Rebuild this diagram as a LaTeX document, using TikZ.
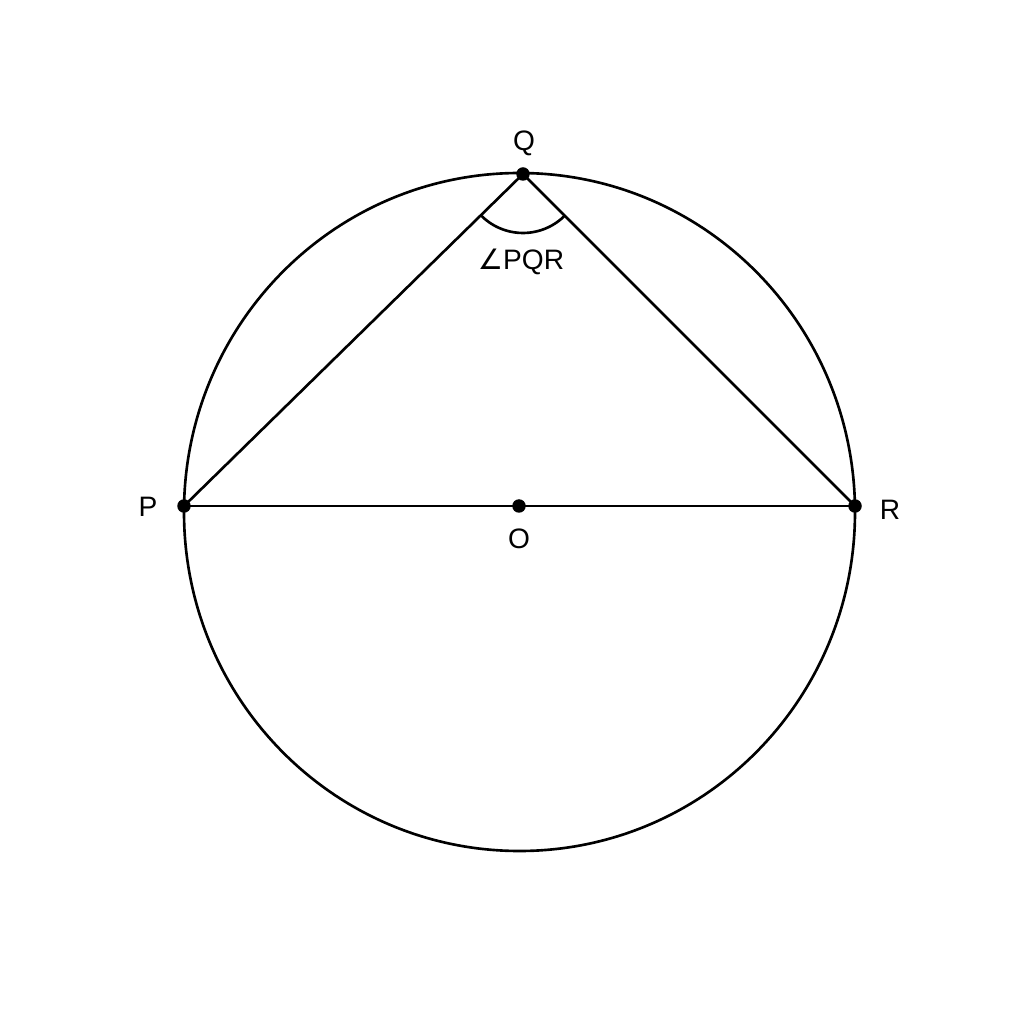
\documentclass[tikz,border=0pt]{standalone}
\usepackage{fontspec}
\setmainfont{Liberation Sans}
\newfontfamily\symfont{DejaVu Sans}
\tikzset{
  punkt/.style={circle, fill=black, inner sep=0pt, minimum size=0.135cm},
  marke/.style={font=\fontsize{8}{9.6}\selectfont, inner sep=0pt}
}
\begin{document}
\begin{tikzpicture}[line width=0.75pt]
			\useasboundingbox (0,0) rectangle (10.24,10.24);
			% Kreis
			\draw (5.195,5.12) ellipse [x radius=3.355, y radius=3.39];
			% Punkte
			\node [punkt] (P) at (1.84,5.18) {};
			\node [punkt] (R) at (8.55,5.18) {};
			\node [punkt] (O) at (5.19,5.18) {};
			\node [punkt] (Q) at (5.23,8.50) {};
			% Dreieck und Durchmesser
			\draw (P.center) -- (Q.center) -- (R.center);
			\draw (P.center) -- (O.center) -- (R.center);
			% Winkelbogen
			\draw ([shift={(224.4:0.59)}]Q.center) arc [start angle=224.4, end angle=315, radius=0.59];
			% Beschriftungen
			\node [marke] (lQ) at (5.24,8.81) {Q};
			\node [marke] (lP) at (1.48,5.17) {P};
			\node [marke] (lR) at (8.90,5.14) {R};
			\node [marke] (lO) at (5.19,4.85) {O};
			\node [marke] (lW) at (5.21,7.62) {{\symfont ∠}PQR};
		\end{tikzpicture}
\end{document}
